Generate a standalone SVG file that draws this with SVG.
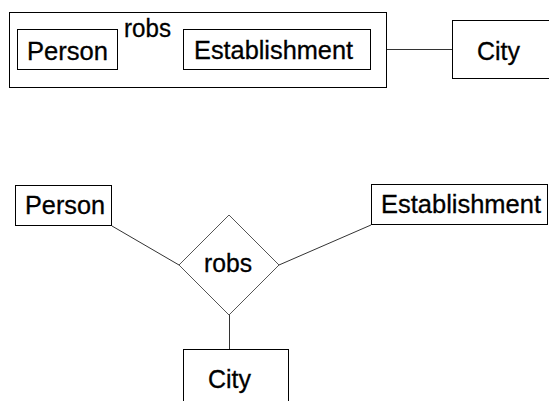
<svg xmlns="http://www.w3.org/2000/svg" width="549" height="401" viewBox="0 0 549 401">
<style>
.box{fill:#fff;stroke:#000;stroke-width:1}
.conn{fill:none;stroke:#333;stroke-width:1}
.dia{fill:#fff;stroke:#555;stroke-width:1}
text{font-family:"Liberation Sans",Arial,sans-serif;font-size:25px;fill:#000;stroke:#000;stroke-width:0.3}
</style>
<rect width="549" height="401" fill="#fff"/>
<g id="connectors">
<line class="conn" x1="117" y1="49.5" x2="183" y2="49.5"/>
<line class="conn" x1="387" y1="49.5" x2="452" y2="49.5"/>
<line class="conn" x1="112" y1="226" x2="179" y2="265"/>
<line class="conn" x1="371" y1="225" x2="279" y2="265"/>
<line class="conn" x1="229.5" y1="315" x2="229.5" y2="349"/>
</g>
<g id="top-aggregate">
<rect class="box" x="9.5" y="12.5" width="377" height="75"/>
</g>
<g id="top-person">
<rect class="box" x="17.5" y="29.5" width="100" height="40"/>
<text x="27" y="60" textLength="81" lengthAdjust="spacingAndGlyphs">Person</text>
</g>
<g id="top-robs">
<text x="124" y="37" textLength="47" lengthAdjust="spacingAndGlyphs">robs</text>
</g>
<g id="top-establishment">
<rect class="box" x="183.5" y="29.5" width="187" height="40"/>
<text x="194" y="59" textLength="159" lengthAdjust="spacingAndGlyphs">Establishment</text>
</g>
<g id="top-city">
<rect class="box" x="452.5" y="20.5" width="110" height="58"/>
<text x="477" y="60" textLength="43" lengthAdjust="spacingAndGlyphs">City</text>
</g>
<g id="bottom-person">
<rect class="box" x="15.5" y="185.5" width="96" height="40"/>
<text x="25" y="214" textLength="80" lengthAdjust="spacingAndGlyphs">Person</text>
</g>
<g id="bottom-establishment">
<rect class="box" x="371.5" y="184.5" width="176" height="40"/>
<text x="381" y="213" textLength="160" lengthAdjust="spacingAndGlyphs">Establishment</text>
</g>
<g id="bottom-robs">
<polygon class="dia" points="229,215 279,265 229,315 179,265"/>
<text x="204" y="272" textLength="48" lengthAdjust="spacingAndGlyphs">robs</text>
</g>
<g id="bottom-city">
<rect class="box" x="183.5" y="349.5" width="105" height="60"/>
<text x="208" y="388" textLength="43" lengthAdjust="spacingAndGlyphs">City</text>
</g>
</svg>
